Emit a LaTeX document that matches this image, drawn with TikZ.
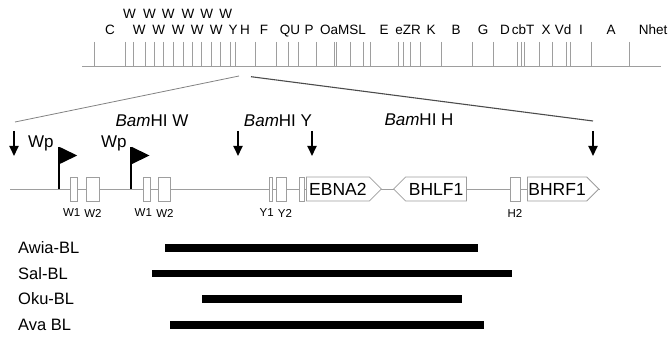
\documentclass[tikz,border=0pt]{standalone}
\usepackage{fontspec}
\setmainfont{Liberation Sans}
\usetikzlibrary{shapes,shapes.symbols,arrows.meta,positioning,calc}
\definecolor{mapgray}{gray}{0.62}
\definecolor{zoomgray}{gray}{0.3}

\tikzset{
  mapline/.style={draw=mapgray, line width=0.9pt},
  maplabel/.style={anchor=base, inner sep=0pt, font=\fontsize{13.5}{13.5}\selectfont},
  exon/.style={draw=mapgray, fill=white, line width=0.8pt, minimum height=24, inner sep=0pt},
  exlabel/.style={inner sep=0pt, font=\fontsize{11.5}{11.5}\selectfont},
  orf/.style={signal, draw=mapgray, fill=white, line width=0.8pt, minimum height=24,
    inner sep=1pt, anchor=west, font=\fontsize{17.5}{17.5}\selectfont},
  cutarrow/.style={line width=1.8pt, -{Triangle[width=9pt,length=10pt]}},
  flagpole/.style={line width=2pt},
  bamlabel/.style={anchor=base, inner sep=0pt, font=\fontsize{17}{17}\selectfont},
  strain/.style={anchor=west, inner sep=0pt, font=\fontsize{16.5}{16.5}\selectfont},
  strainbar/.style={line width=7.5pt}
}

\begin{document}
\begin{tikzpicture}[x=1pt,y=-1pt]
\useasboundingbox (0,0) rectangle (671,339);

% BamHI restriction map
\draw[mapline] (82,66.7) -- (661,66.7);
\foreach \t in {94,125.7,133.3,145,154,163.3,173.3,183.3,192.7,201.7,211.7,220.7,230.7,235.7,
    255,276.7,288.3,298.3,316.3,334,336.5,350,363,370.7,398.3,403.3,410.5,420.7,441.7,
    472.3,493,517.3,521,524.5,539.2,552,566,570,591.2,629.2}
  \draw[mapline] (\t,42) -- (\t,66.7);
% fragment names, upper row
\foreach \x [count=\i] in {129.5,149.5,168.3,188,206.7,225.7}
  \node[maplabel] (wtop\i) at (\x,18.3) {W};
% fragment names, lower row
\foreach \x/\t [count=\i] in {110/C,139.2/W,158.7/W,178.3/W,197.2/W,216.2/W,233/Y,245/H,264/F,
    290/QU,309/P,343/OaMSL,384/E,408/eZR,431/K,456/B,483/G,505/D,523/cbT,546/X,563/Vd,
    581/I,611/A,653/Nhet}
  \node[maplabel] (frag\i) at (\x,35) {\t};

% enlarged region
\coordinate (zoomL) at (239,76);
\coordinate (zoomR) at (251,76.7);
\coordinate (regL) at (15,122);
\coordinate (regR) at (593,121);
\draw[zoomgray!70, line width=0.8pt] (zoomL) -- (regL);
\draw[zoomgray, line width=1.1pt] (zoomR) -- (regR);

\node[bamlabel] (bamW) at (152,127) {\textit{Bam}HI W};
\node[bamlabel] (bamY) at (278,127) {\textit{Bam}HI Y};
\node[bamlabel] (bamH) at (419,125.5) {\textit{Bam}HI H};

% BamHI cut sites
\foreach \x [count=\i] in {14,238,312,593} {
  \coordinate (cut\i) at (\x,131);
  \draw[cutarrow] (cut\i) -- ++(0,25);
}

% genome line
\coordinate (gstart) at (10,189);
\coordinate (gend) at (600,189);
\draw[mapline] (gstart) -- (gend);

% Wp promoters
\foreach \x/\lx [count=\i] in {58.7/28,131/101} {
  \coordinate (wp\i) at (\x,189);
  \draw[flagpole] (wp\i) -- ++(0,-42);
  \fill ($(wp\i)+(1,-42)$) -- ++(17.5,8.5) -- ++(-17.5,8.5) -- cycle;
  \node[bamlabel, anchor=base west] (wplab\i) at (\lx,148) {Wp};
}

% exons
\node[exon, minimum width=6.6] (w1a) at (74,189) {};
\node[exon, minimum width=13.3] (w2a) at (92.7,189) {};
\node[exon, minimum width=6.7] (w1b) at (146.7,189) {};
\node[exon, minimum width=12.4] (w2b) at (164.5,189) {};
\node[exon, minimum width=3.4] (y1) at (271,189) {};
\node[exon, minimum width=10] (y2) at (281.8,189) {};
\node[exon, minimum width=5] (y3) at (301.5,189) {};
\node[exon, minimum width=10.7] (h2) at (515.3,189) {};

\node[exlabel] (lw1a) at (71.7,213) {W1};
\node[exlabel] (lw2a) at (93,213) {W2};
\node[exlabel] (lw1b) at (143.3,213) {W1};
\node[exlabel] (lw2b) at (165,213) {W2};
\node[exlabel] (ly1) at (266.7,213) {Y1};
\node[exlabel] (ly2) at (285,213) {Y2};
\node[exlabel] (lh2) at (515,213) {H2};

% open reading frames
\node[orf, signal to=east, minimum width=75] (ebna2) at (306,189) {EBNA2};
\node[orf, signal to=west, minimum width=73] (bhlf1) at (393,189) {BHLF1};
\node[orf, signal to=east, minimum width=70] (bhrf1) at (527,189) {BHRF1};

% deletions in the BL lines
\foreach \t/\y/\a/\b [count=\i] in {Awia-BL/248/165/478,Sal-BL/273.5/152/512,
    Oku-BL/299/202/462,Ava BL/325/170/484} {
  \node[strain] (bl\i) at (18,\y) {\t};
  \draw[strainbar] (\a,\y) -- (\b,\y);
}
\end{tikzpicture}
\end{document}
